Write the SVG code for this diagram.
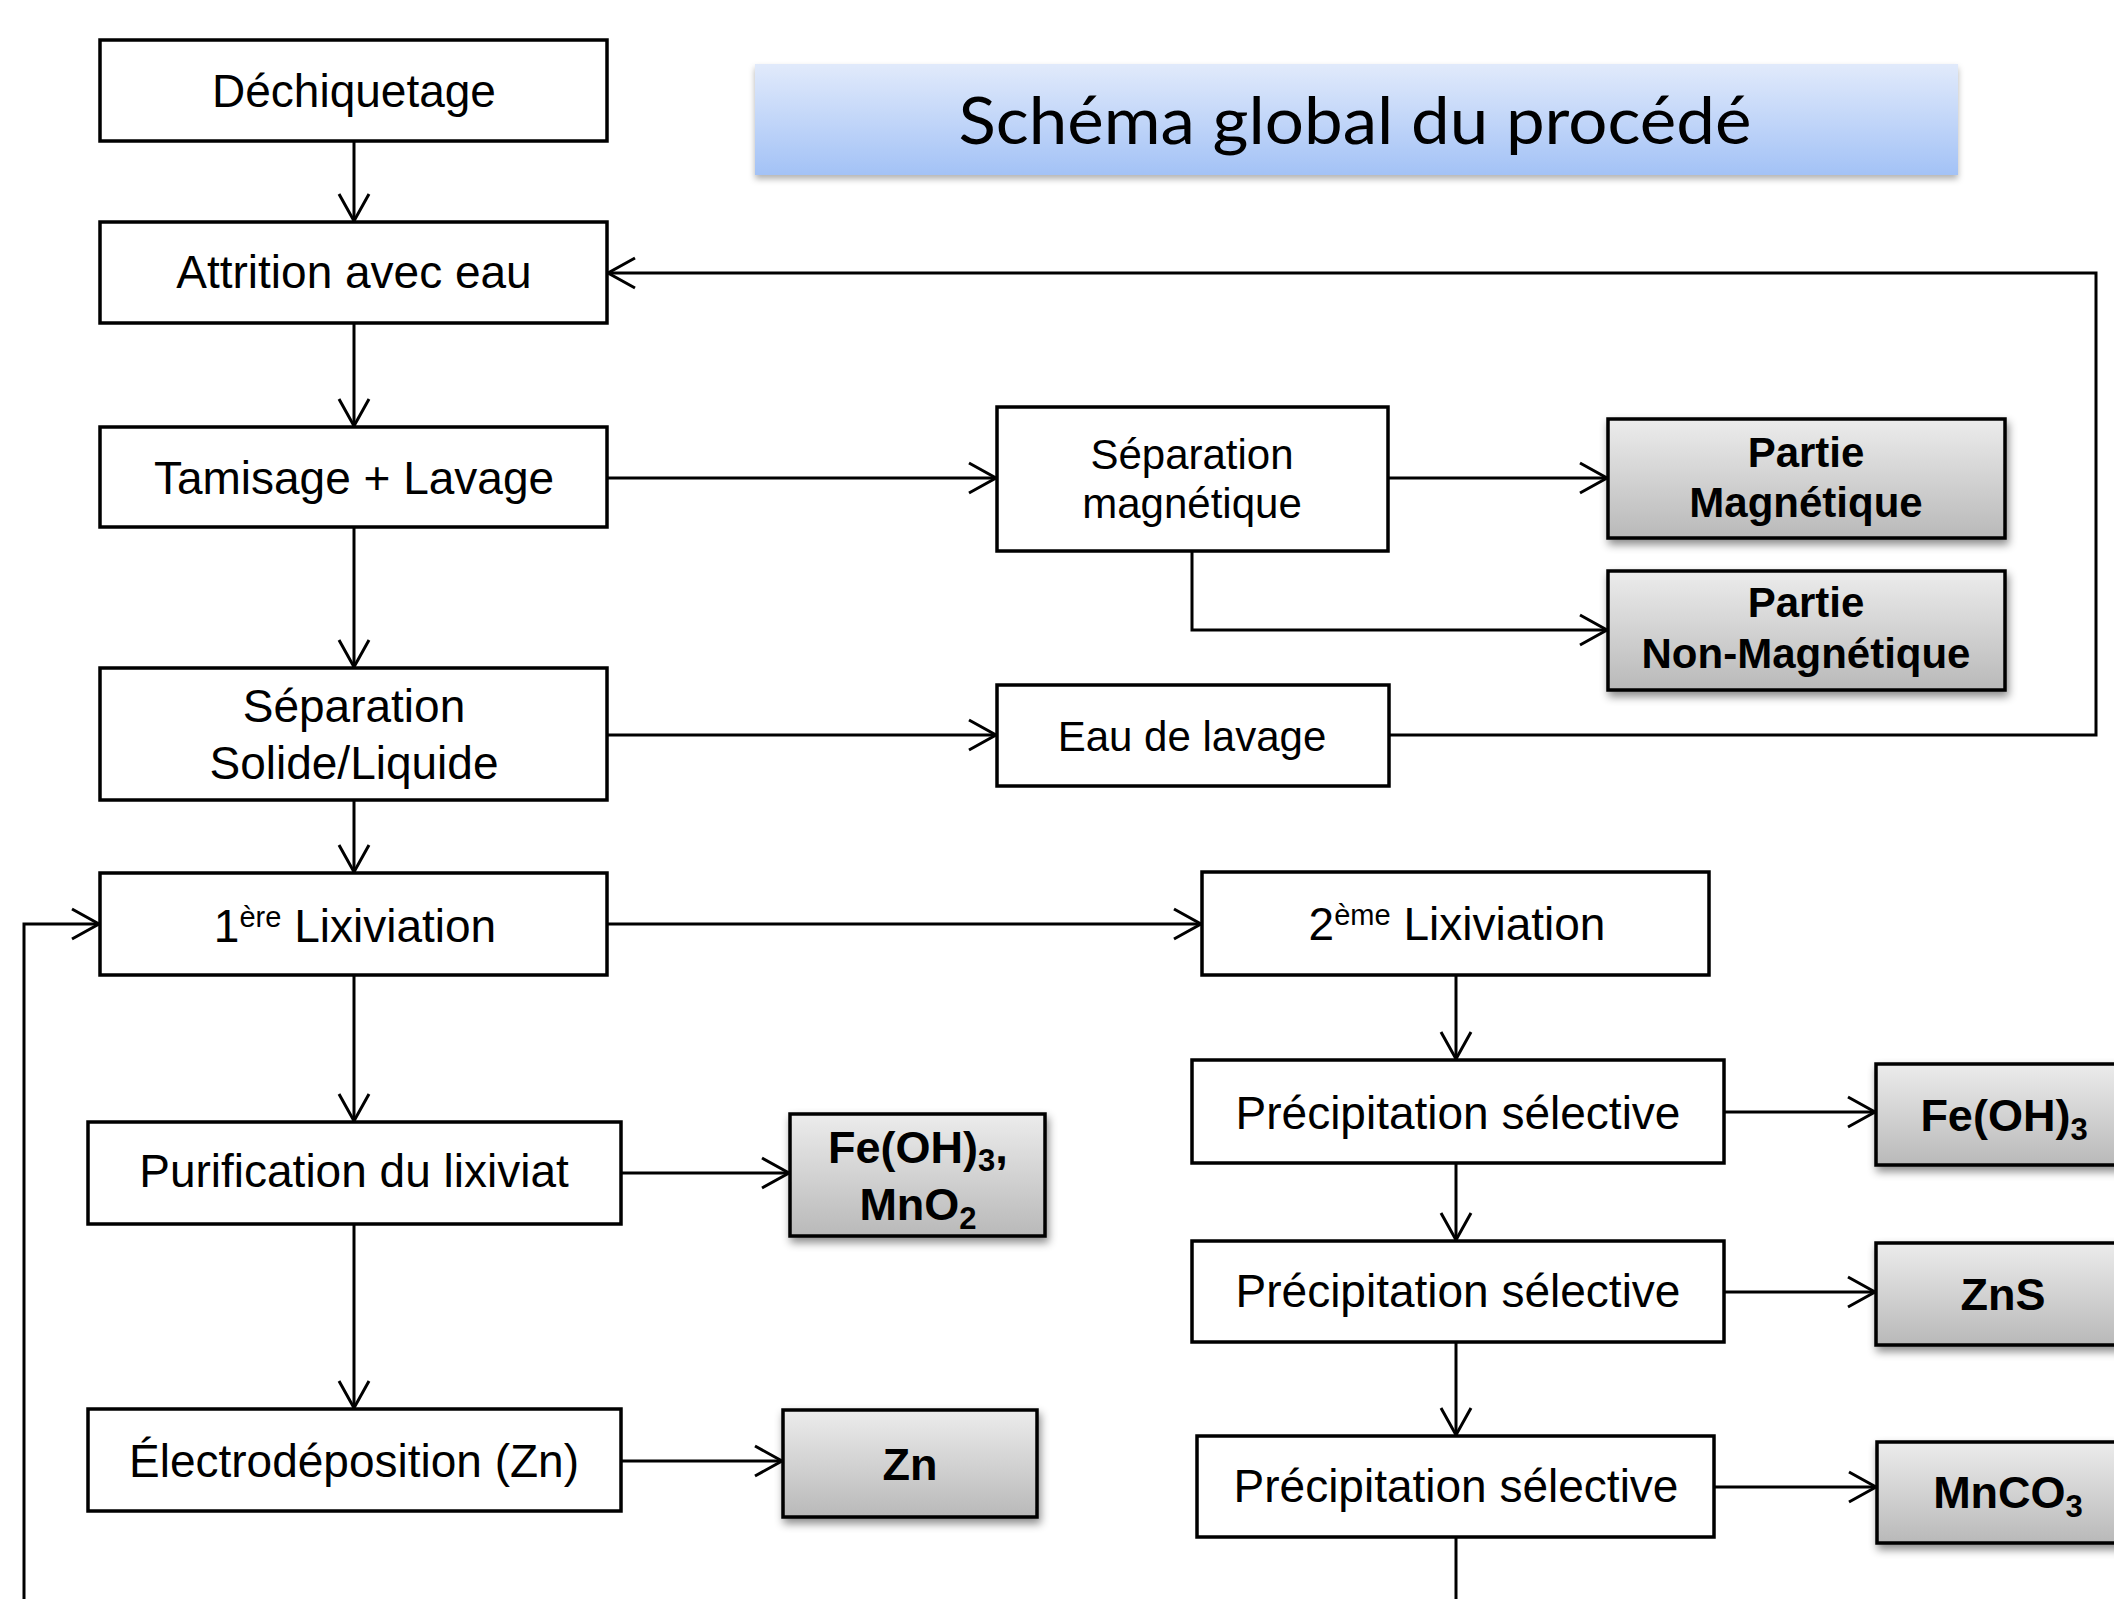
<svg xmlns="http://www.w3.org/2000/svg" width="2114" height="1599" viewBox="0 0 2114 1599">
<style>
.box{fill:#ffffff;stroke:#000;stroke-width:3.5}
.out{fill:url(#gray);stroke:#000;stroke-width:3.5;filter:url(#sh)}
.t{font-family:"Liberation Sans",Arial,sans-serif;font-size:46px;fill:#000;text-anchor:middle}
.s{font-size:42px}
.b{font-family:"Liberation Sans",Arial,sans-serif;font-weight:bold;font-size:45px;fill:#000;text-anchor:middle}
.bs{font-size:42px}
.c{fill:none;stroke:#000;stroke-width:3;marker-end:url(#ah)}
.l{fill:none;stroke:#000;stroke-width:3}
</style>
<defs>
<linearGradient id="gray" x1="0" y1="0" x2="0" y2="1">
<stop offset="0" stop-color="#ececec"/>
<stop offset="1" stop-color="#b9b9b9"/>
</linearGradient>
<linearGradient id="blue" x1="0" y1="0" x2="0" y2="1">
<stop offset="0" stop-color="#e1eafb"/>
<stop offset="1" stop-color="#a3c2f6"/>
</linearGradient>
<filter id="sh" x="-10%" y="-10%" width="125%" height="140%">
<feDropShadow dx="2" dy="5" stdDeviation="4" flood-color="#000" flood-opacity="0.45"/>
</filter>
<filter id="sh2" x="-5%" y="-10%" width="110%" height="130%">
<feDropShadow dx="0" dy="4" stdDeviation="3" flood-color="#000" flood-opacity="0.3"/>
</filter>
<marker id="ah" markerUnits="userSpaceOnUse" markerWidth="40" markerHeight="40" refX="0" refY="0" viewBox="-32 -20 36 40" orient="auto">
<path d="M-27,-15 L0,0 L-27,15" fill="none" stroke="#000" stroke-width="3"/>
</marker>
</defs>

<g id="title">
<rect x="755" y="64" width="1203" height="111" fill="url(#blue)" filter="url(#sh2)"/>
<text x="1355" y="144" font-family="Lato,'Open Sans',sans-serif" font-size="66" fill="#000" text-anchor="middle" textLength="793" lengthAdjust="spacingAndGlyphs">Schéma global du procédé</text>
</g>

<g id="connectors">
<path class="c" d="M354,141 V221"/>
<path class="c" d="M354,323 V426"/>
<path class="c" d="M354,527 V667"/>
<path class="c" d="M354,800 V872"/>
<path class="c" d="M354,975 V1121"/>
<path class="c" d="M354,1224 V1408"/>
<path class="c" d="M607,478 H996"/>
<path class="c" d="M1388,478 H1607"/>
<path class="c" d="M1192,551 V630 H1607"/>
<path class="c" d="M607,735 H996"/>
<path class="c" d="M1389,735 H2096 V273 H608"/>
<path class="c" d="M607,924 H1201"/>
<path class="c" d="M24,1599 V924 H99"/>
<path class="c" d="M621,1173 H789"/>
<path class="c" d="M621,1461 H782"/>
<path class="c" d="M1456,975 V1059"/>
<path class="c" d="M1724,1112 H1875"/>
<path class="c" d="M1456,1163 V1240"/>
<path class="c" d="M1724,1292 H1875"/>
<path class="c" d="M1456,1342 V1435"/>
<path class="c" d="M1714,1487 H1876"/>
<path class="l" d="M1456,1537 V1600"/>
</g>

<g id="n-dechiquetage">
<rect class="box" x="100" y="40" width="507" height="101"/>
<text class="t" x="354" y="107">Déchiquetage</text>
</g>
<g id="n-attrition">
<rect class="box" x="100" y="222" width="507" height="101"/>
<text class="t" x="354" y="288">Attrition avec eau</text>
</g>
<g id="n-tamisage">
<rect class="box" x="100" y="427" width="507" height="100"/>
<text class="t" x="354" y="494">Tamisage + Lavage</text>
</g>
<g id="n-sepsl">
<rect class="box" x="100" y="668" width="507" height="132"/>
<text class="t" x="354" y="722">Séparation</text>
<text class="t" x="354" y="779">Solide/Liquide</text>
</g>
<g id="n-lix1">
<rect class="box" x="100" y="873" width="507" height="102"/>
<text class="t" x="355" y="942" font-size="45">1<tspan font-size="29" dy="-15">ère</tspan><tspan dy="15"> Lixiviation</tspan></text>
</g>
<g id="n-purif">
<rect class="box" x="88" y="1122" width="533" height="102"/>
<text class="t" x="354" y="1187">Purification du lixiviat</text>
</g>
<g id="n-electro">
<rect class="box" x="88" y="1409" width="533" height="102"/>
<text class="t" x="354" y="1477">Électrodéposition (Zn)</text>
</g>
<g id="n-sepmag">
<rect class="box" x="997" y="407" width="391" height="144"/>
<text class="t s" x="1192" y="469">Séparation</text>
<text class="t s" x="1192" y="518">magnétique</text>
</g>
<g id="n-eau">
<rect class="box" x="997" y="685" width="392" height="101"/>
<text class="t s" x="1192" y="751">Eau de lavage</text>
</g>
<g id="n-pmag">
<rect class="out" x="1608" y="419" width="397" height="119"/>
<text class="b bs" x="1806" y="467">Partie</text>
<text class="b bs" x="1806" y="517">Magnétique</text>
</g>
<g id="n-pnonmag">
<rect class="out" x="1608" y="571" width="397" height="119"/>
<text class="b bs" x="1806" y="617">Partie</text>
<text class="b bs" x="1806" y="668">Non-Magnétique</text>
</g>
<g id="n-lix2">
<rect class="box" x="1202" y="872" width="507" height="103"/>
<text class="t" x="1457" y="940" font-size="45">2<tspan font-size="29" dy="-15">ème</tspan><tspan dy="15"> Lixiviation</tspan></text>
</g>
<g id="n-precip1">
<rect class="box" x="1192" y="1060" width="532" height="103"/>
<text class="t" x="1458" y="1129">Précipitation sélective</text>
</g>
<g id="n-precip2">
<rect class="box" x="1192" y="1241" width="532" height="101"/>
<text class="t" x="1458" y="1307">Précipitation sélective</text>
</g>
<g id="n-precip3">
<rect class="box" x="1197" y="1436" width="517" height="101"/>
<text class="t" x="1456" y="1502">Précipitation sélective</text>
</g>
<g id="n-femno2">
<rect class="out" x="790" y="1114" width="255" height="122"/>
<text class="b" x="918" y="1163">Fe(OH)<tspan font-size="31" dy="8">3</tspan><tspan dy="-8">,</tspan></text>
<text class="b" x="918" y="1220">MnO<tspan font-size="31" dy="9">2</tspan></text>
</g>
<g id="n-zn">
<rect class="out" x="783" y="1410" width="254" height="107"/>
<text class="b" x="910" y="1480">Zn</text>
</g>
<g id="n-feoh3">
<rect class="out" x="1876" y="1064" width="264" height="101"/>
<text class="b" x="2004" y="1131">Fe(OH)<tspan font-size="31" dy="9">3</tspan></text>
</g>
<g id="n-zns">
<rect class="out" x="1876" y="1243" width="264" height="102"/>
<text class="b" x="2003" y="1310">ZnS</text>
</g>
<g id="n-mnco3">
<rect class="out" x="1877" y="1442" width="264" height="101"/>
<text class="b" x="2008" y="1508">MnCO<tspan font-size="31" dy="9">3</tspan></text>
</g>
</svg>
